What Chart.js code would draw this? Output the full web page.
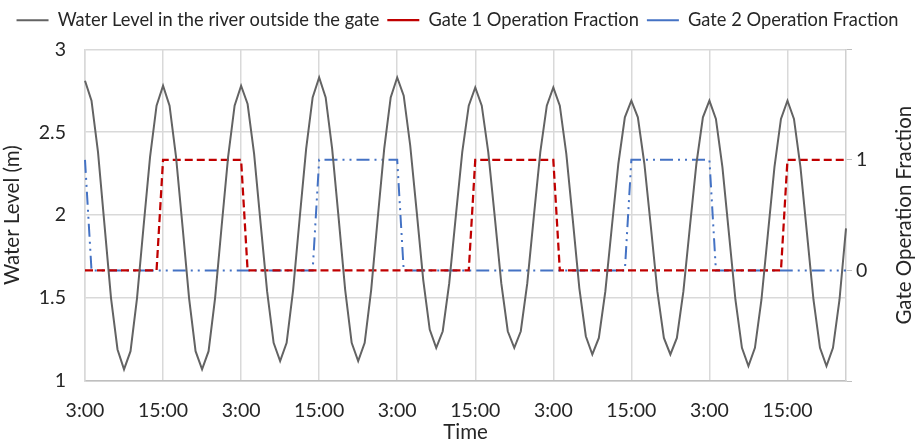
<!DOCTYPE html>
<html>
<head>
<meta charset="utf-8">
<script src="https://cdn.jsdelivr.net/npm/chart.js@4.4.1/dist/chart.umd.min.js"></script>
<style>
  html, body { margin: 0; padding: 0; background: #ffffff; }
  #wrap { width: 915px; height: 441px; position: relative; }
</style>
</head>
<body>
<div id="wrap"><canvas id="levelChart"></canvas></div>
<script>
// hourly readings, starting at 3:00
const startHour = 3;
const hourCount = 118;

const waterLevel = [
  2.81, 2.69, 2.38, 1.94, 1.50, 1.19, 1.07, 1.18, 1.50, 1.93, 2.35, 2.66,
  2.78, 2.66, 2.35, 1.93, 1.50, 1.18, 1.07, 1.18, 1.50, 1.93, 2.35, 2.66,
  2.78, 2.67, 2.37, 1.95, 1.54, 1.23, 1.12, 1.23, 1.55, 1.98, 2.40, 2.71,
  2.83, 2.71, 2.40, 1.98, 1.55, 1.23, 1.12, 1.23, 1.55, 1.98, 2.40, 2.71,
  2.83, 2.72, 2.42, 2.02, 1.61, 1.31, 1.20, 1.30, 1.59, 1.99, 2.38, 2.66,
  2.77, 2.66, 2.38, 1.99, 1.59, 1.30, 1.20, 1.30, 1.59, 1.99, 2.38, 2.66,
  2.77, 2.66, 2.37, 1.97, 1.56, 1.27, 1.16, 1.26, 1.54, 1.93, 2.31, 2.59,
  2.69, 2.59, 2.31, 1.93, 1.54, 1.26, 1.16, 1.26, 1.54, 1.93, 2.31, 2.59,
  2.69, 2.58, 2.29, 1.89, 1.49, 1.20, 1.09, 1.20, 1.49, 1.89, 2.29, 2.58,
  2.69, 2.58, 2.29, 1.89, 1.49, 1.20, 1.09, 1.20, 1.49, 1.92
];

const gate1 = [
  0, 0, 0, 0, 0, 0, 0, 0, 0, 0, 0, 0,
  1, 1, 1, 1, 1, 1, 1, 1, 1, 1, 1, 1,
  1, 0, 0, 0, 0, 0, 0, 0, 0, 0, 0, 0,
  0, 0, 0, 0, 0, 0, 0, 0, 0, 0, 0, 0,
  0, 0, 0, 0, 0, 0, 0, 0, 0, 0, 0, 0,
  1, 1, 1, 1, 1, 1, 1, 1, 1, 1, 1, 1,
  1, 0, 0, 0, 0, 0, 0, 0, 0, 0, 0, 0,
  0, 0, 0, 0, 0, 0, 0, 0, 0, 0, 0, 0,
  0, 0, 0, 0, 0, 0, 0, 0, 0, 0, 0, 0,
  1, 1, 1, 1, 1, 1, 1, 1, 1, 1
];

const gate2 = [
  1, 0, 0, 0, 0, 0, 0, 0, 0, 0, 0, 0,
  0, 0, 0, 0, 0, 0, 0, 0, 0, 0, 0, 0,
  0, 0, 0, 0, 0, 0, 0, 0, 0, 0, 0, 0,
  1, 1, 1, 1, 1, 1, 1, 1, 1, 1, 1, 1,
  1, 0, 0, 0, 0, 0, 0, 0, 0, 0, 0, 0,
  0, 0, 0, 0, 0, 0, 0, 0, 0, 0, 0, 0,
  0, 0, 0, 0, 0, 0, 0, 0, 0, 0, 0, 0,
  1, 1, 1, 1, 1, 1, 1, 1, 1, 1, 1, 1,
  1, 0, 0, 0, 0, 0, 0, 0, 0, 0, 0, 0,
  0, 0, 0, 0, 0, 0, 0, 0, 0, 0
];

const levelTicks = [1, 1.5, 2, 2.5, 3];
const gateTicks = [0, 1];

// category labels like "3:00", "4:00", ...
const times = [];
for (let i = 0; i < hourCount; i++) {
  times.push(((startHour + i) % 24) + ":00");
}

const FONT = "Lato";
const TEXT = "#262626";

// leave a little room under the legend, like the original
const legendGap = {
  id: "legendGap",
  beforeInit(chart) {
    const lg = chart.legend;
    if (!lg || lg._gapPatched) return;
    const fit = lg.fit;
    lg.fit = function () {
      fit.call(this);
      this.height += 10;
    };
    lg._gapPatched = true;
  }
};

// right-hand axis title reads bottom-to-top, like the left one
const rightTitle = {
  id: "rightTitle",
  afterDraw(chart) {
    const area = chart.chartArea;
    const ctx = chart.ctx;
    ctx.save();
    ctx.translate(904, (area.top + area.bottom) / 2);
    ctx.rotate(-Math.PI / 2);
    ctx.font = "20.5px " + FONT;
    ctx.fillStyle = TEXT;
    ctx.textAlign = "center";
    ctx.textBaseline = "middle";
    ctx.fillText("Gate Operation Fraction", 0, 0);
    ctx.restore();
  }
};

new Chart(document.getElementById("levelChart"), {
  type: "line",
  data: {
    labels: times,
    datasets: [
      {
        label: "Water Level in the river outside the gate",
        data: waterLevel,
        yAxisID: "y",
        borderColor: "#636363",
        borderWidth: 2,
        pointRadius: 0,
        tension: 0
      },
      {
        label: "Gate 1 Operation Fraction",
        data: gate1,
        yAxisID: "y2",
        borderColor: "#C00000",
        borderWidth: 2.25,
        borderDash: [8, 4],
        pointRadius: 0,
        tension: 0
      },
      {
        label: "Gate 2 Operation Fraction",
        data: gate2,
        yAxisID: "y2",
        borderColor: "#4472C4",
        borderWidth: 2,
        borderDash: [13, 5, 2, 5, 2, 5],
        pointRadius: 0,
        tension: 0
      }
    ]
  },
  options: {
    responsive: true,
    maintainAspectRatio: false,
    animation: false,
    layout: { padding: { top: 3, left: 0, right: 0, bottom: 0 } },
    plugins: {
      tooltip: { enabled: false },
      legend: {
        position: "top",
        labels: {
          font: { family: FONT, size: 18.3 },
          color: TEXT,
          usePointStyle: true,
          pointStyle: "line",
          boxWidth: 32,
          pointStyleWidth: 32,
          padding: 8
        }
      }
    },
    scales: {
      x: {
        offset: false,
        grid: {
          drawTicks: false,
          color: (c) => (c.index % 12 === 0 ? "#d9d9d9" : "rgba(0,0,0,0)"),
          lineWidth: 1.5
        },
        border: { color: "#bfbfbf", width: 1.5 },
        ticks: {
          autoSkip: false,
          maxRotation: 0,
          padding: 18,
          color: TEXT,
          font: { family: FONT, size: 19.5 },
          callback: function (val, index) {
            return index % 12 === 0 ? this.getLabelForValue(val) : "";
          }
        },
        title: {
          display: true,
          text: "Time",
          color: TEXT,
          font: { family: FONT, size: 20.5 },
          padding: { top: 0, bottom: -4 }
        },
        afterFit: (scale) => { scale.height = 60; }
      },
      y: {
        position: "left",
        min: 1,
        max: 3,
        afterBuildTicks: (scale) => { scale.ticks = levelTicks.map((v) => ({ value: v })); },
        grid: { drawTicks: false, color: "#d9d9d9", lineWidth: 1.5 },
        border: { color: "#d9d9d9", width: 1.5 },
        ticks: {
          padding: 19,
          color: TEXT,
          font: { family: FONT, size: 19.5 },
          callback: (v) => String(v)
        },
        title: {
          display: true,
          text: "Water Level (m)",
          color: TEXT,
          font: { family: FONT, size: 20.5 },
          padding: { top: 0, bottom: 0 }
        },
        afterFit: (scale) => { scale.width = 85; }
      },
      y2: {
        position: "right",
        min: -1,
        max: 2,
        afterBuildTicks: (scale) => { scale.ticks = [-1, 0, 1, 2].map((v) => ({ value: v })); },
        grid: {
          drawOnChartArea: false,
          drawTicks: true,
          tickLength: 6,
          color: "#bfbfbf"
        },
        border: { color: "#d0d0d0", width: 1.5 },
        ticks: {
          padding: 4,
          color: TEXT,
          font: { family: FONT, size: 19.5 },
          callback: (v) => (gateTicks.includes(v) ? String(v) : "")
        },
        afterFit: (scale) => { scale.width = 69; }
      }
    }
  },
  plugins: [legendGap, rightTitle]
});
</script>
</body>
</html>
